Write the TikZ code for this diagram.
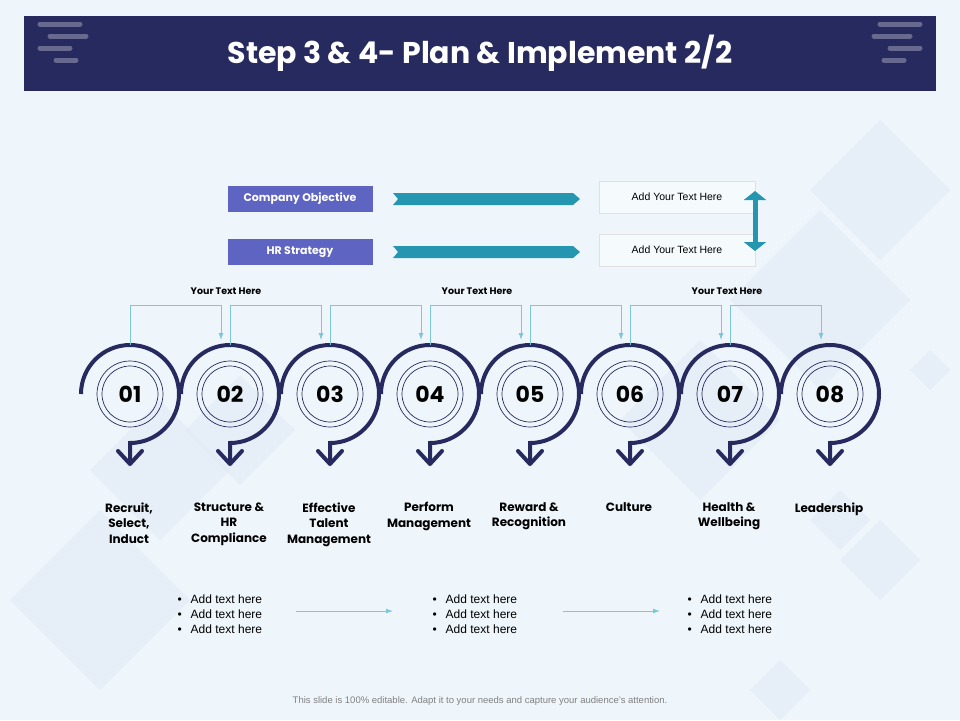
\documentclass[tikz,border=0pt]{standalone}
\usepackage{fontspec}
\setmainfont{Liberation Sans}
\newfontfamily\popfont{Poppins}
\usetikzlibrary{calc}
\usetikzlibrary{positioning}
\usetikzlibrary{arrows.meta}
\definecolor{navy}{HTML}{262A5E}
\definecolor{bgblue}{HTML}{EEF6FB}
\definecolor{lilac}{HTML}{5D64C2}
\definecolor{tealc}{HTML}{2596B0}
\definecolor{skyline}{HTML}{7CC7D9}
\definecolor{diam}{HTML}{E2E9F5}
\tikzset{
  numtext/.style={font=\popfont\bfseries\fontsize{22}{22}\selectfont, text=black},
  steplabel/.style={font=\popfont\bfseries\fontsize{12}{15.5}\selectfont, align=center, anchor=north},
  tagbox/.style={fill=lilac, text=white, minimum width=145pt, minimum height=26pt, font=\popfont\bfseries\fontsize{11}{11}\selectfont},
  textbox/.style={draw=black!12, fill=bgblue!60!white, minimum width=156pt, minimum height=32pt, font=\fontsize{10.5}{10.5}\selectfont},
  linkarrow/.style={skyline, line width=0.9pt, -{Latex[length=7pt,width=5pt]}},
  bullets/.style={font=\fontsize{12}{15}\selectfont, align=left, anchor=north west}
}
\begin{document}
\begin{tikzpicture}[x=1pt,y=-1pt]
    \fill[bgblue] (0,0) rectangle (960,720);
    \useasboundingbox (0,0) rectangle (960,720);
    % faint diamonds in the back
    \foreach \cx/\cy/\r in {880/190/70, 820/300/90, 700/420/80, 160/470/70, 100/600/90, 240/430/55, 880/560/40, 840/520/30, 780/690/30, 930/370/20} {
        \fill[diam, opacity=0.6] (\cx,\cy-\r) -- (\cx+\r,\cy) -- (\cx,\cy+\r) -- (\cx-\r,\cy) -- cycle;
    }
    % header
    \fill[navy] (24,16) rectangle (936,91);
    \foreach \yy/\xa/\xb in {24/40/80, 36/50/86, 48/40/70, 60/56/76} {
        \draw[white!30!navy, line width=5pt, line cap=round] (\xa,\yy) -- (\xb,\yy);
        \draw[white!30!navy, line width=5pt, line cap=round] (960-\xb,\yy) -- (960-\xa,\yy);
    }
    \node[text=white, font=\popfont\bfseries\fontsize{30}{30}\selectfont] (title) at (480,53) {Step 3 \& 4- Plan \& Implement 2/2};

    % objective rows
    \node[tagbox] (obj) at (300,199) {Company Objective};
    \node[tagbox] (hrs) at (300,252) {HR Strategy};
    \foreach \yy in {199,252} {
        \fill[tealc] (393,\yy-6) -- (573,\yy-6) -- (580,\yy) -- (573,\yy+6) -- (393,\yy+6) -- (398,\yy) -- cycle;
    }
    \node[textbox] (txa) at (677,197) {Add Your Text Here};
    \node[textbox] (txb) at (677,250) {Add Your Text Here};
    \draw[tealc, line width=5pt, {Triangle[length=9pt,width=22pt]}-{Triangle[length=9pt,width=22pt]}] (755,191) -- (755,251);

    % steps
    \foreach \i/\lab in {1/{Recruit,\\Select,\\Induct}, 2/{Structure \&\\HR\\Compliance}, 3/{Effective\\Talent\\Management}, 4/{Perform\\Management}, 5/{Reward \&\\Recognition}, 6/{Culture}, 7/{Health \&\\Wellbeing}, 8/{Leadership}} {
        \pgfmathsetmacro{\cx}{30+100*\i}
        \draw[navy, line width=0.7pt] (\cx,394) circle (33);
        \draw[navy, line width=0.7pt] (\cx,394) circle (28);
        \node[numtext] (n\i) at (\cx,394) {0\i};
        \draw[navy, line width=4pt] (\cx-49,394) arc[start angle=180, end angle=450, radius=49] -- (\cx,463);
        \draw[navy, line width=4pt, line cap=round, line join=round] (\cx-12,451) -- (\cx,464) -- (\cx+12,451);
        \node[steplabel] (l\i) at (\cx-1,499) {\lab};
    }
    % links between steps
    \foreach \i in {1,...,7} {
        \pgfmathsetmacro{\xs}{30+100*\i}
        \pgfmathsetmacro{\xe}{30+100*(\i+1)-9}
        \draw[linkarrow] (\xs,345) -- (\xs,305) -- (\xe,305) -- (\xe,340);
    }
    \foreach \xx/\nm in {226/ya, 477/yb, 727/yc} {
        \node[font=\popfont\bfseries\fontsize{9.5}{9.5}\selectfont] (\nm) at (\xx,291) {Your Text Here};
    }

    % bullet groups
    \foreach \xx/\nm in {174/ba, 429/bb, 684/bc} {
        \node[bullets] (\nm) at (\xx,591) {\textbullet\hspace{9pt}Add text here\\\textbullet\hspace{9pt}Add text here\\\textbullet\hspace{9pt}Add text here};
    }
    \draw[linkarrow] (296,611) -- (393,611);
    \draw[linkarrow] (563,611) -- (660,611);

    \node[text=black!50, font=\fontsize{9.5}{9.5}\selectfont] (foot) at (480,701) {This slide is 100\% editable. Adapt it to your needs and capture your audience's attention.};
\end{tikzpicture}
\end{document}
